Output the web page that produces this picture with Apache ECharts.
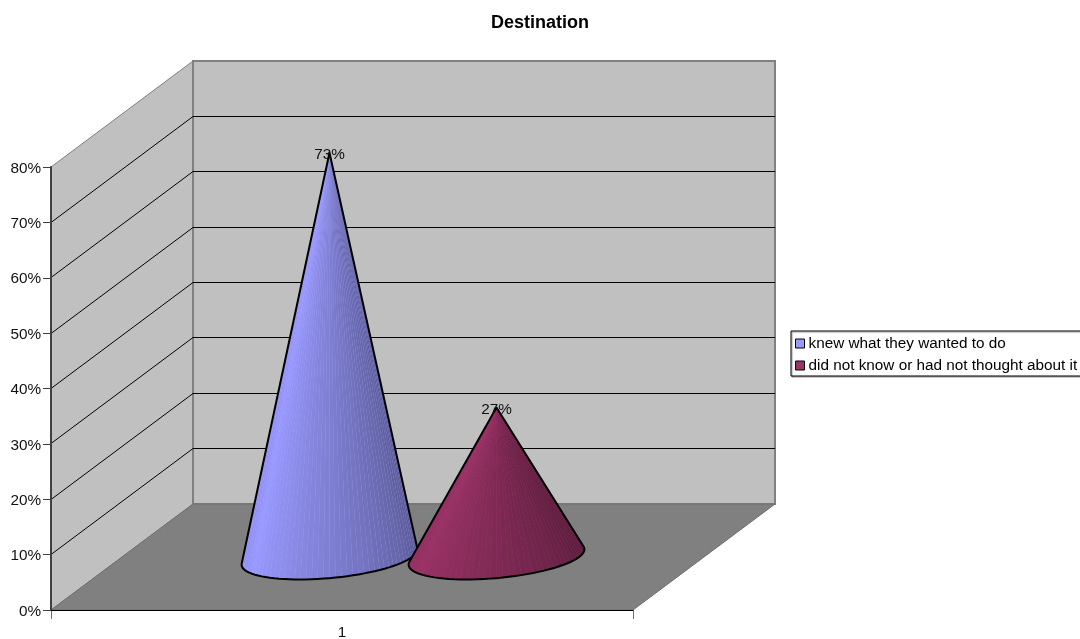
<!DOCTYPE html>
<html>
<head>
<meta charset="utf-8">
<style>html,body{margin:0;padding:0;background:#fff}#chart{width:1080px;height:639px}</style>
<script src="https://cdn.jsdelivr.net/npm/echarts@6/dist/echarts.min.js"></script>
</head>
<body>
<div id="chart"></div>
<script>
// Survey results
const titleText = 'Destination';
const categories = ['1'];
const answerNames = ['knew what they wanted to do', 'did not know or had not thought about it'];
const answerShares = [73, 27];
const answerColors = ['#9999ff', '#993366'];
const yTickValues = [0, 10, 20, 30, 40, 50, 60, 70, 80];

// Oblique projection of the box: how far the back plane sits from the front plane
const DEPTH_X = 142;
const DEPTH_Y = -106;
const FONT = '"Liberation Sans", Arial, sans-serif';

function wallsRenderer(params, api) {
  const cs = params.coordSys;
  const L = cs.x, R = cs.x + cs.width;
  const T = cs.y, B = cs.y + cs.height;
  const back = (x, y) => [x + DEPTH_X, y + DEPTH_Y];
  const children = [];
  const poly = (points, fill, stroke, w) => children.push({
    type: 'polygon', shape: { points },
    style: { fill, stroke: stroke || null, lineWidth: w || 0 }, silent: true
  });
  const line = (a, b, stroke, w) => children.push({
    type: 'line', shape: { x1: a[0], y1: a[1], x2: b[0], y2: b[1] },
    style: { stroke, lineWidth: w }, silent: true
  });
  // side wall, back wall, floor
  poly([[L, T], back(L, T), back(L, B), [L, B]], '#c0c0c0', '#808080', 1);
  poly([back(L, T), back(R, T), back(R, B), back(L, B)], '#c0c0c0', '#808080', 2);
  poly([[L, B], [R, B], back(R, B), back(L, B)], '#808080', '#6f6f6f', 1);
  // gridlines wrap from the side wall onto the back wall
  yTickValues.forEach(v => {
    if (v === 0 || v === yTickValues[yTickValues.length - 1]) return;
    const y = Math.floor(api.coord([0, v])[1]) + 0.5;
    line([L, y], back(L, y), '#000', 1);
    line(back(L, y), back(R, y), '#000', 1);
  });
  // category boundary ticks under the front edge of the floor
  line([L + 0.5, B], [L + 0.5, B + 9], '#707070', 1);
  line([R + 0.5, B], [R + 0.5, B + 9], '#707070', 1);
  return { type: 'group', children };
}

function tint(hex, k) {
  const n = parseInt(hex.slice(1), 16);
  const c = [n >> 16, (n >> 8) & 255, n & 255].map(v => Math.round(Math.min(255, v * k)));
  return 'rgb(' + c.join(',') + ')';
}

// Brightness across the visible face, left silhouette (0) to right silhouette (1)
function faceLight(f) {
  return f < 0.18 ? 0.9 + 0.1 * f / 0.18 : 1 - 0.45 * (f - 0.18) / 0.82;
}

function coneRenderer(index) {
  return function (params, api) {
    const value = api.value(1);
    const top = api.coord([0, value]);
    const zero = api.coord([0, 0]);
    const band = api.size([1, 0])[0];
    const side = index === 0 ? -1 : 1;

    // Cones stand halfway back on the floor, side by side in the category band
    const depth = 0.5;
    const cx = zero[0] + side * band * 0.1435 + depth * DEPTH_X;
    const cy = zero[1] + depth * DEPTH_Y;
    const apex = [cx, top[1] + depth * DEPTH_Y];

    // Base circle as seen in projection: P(t) = c + u cos t + v sin t
    const r = band * 0.142;
    const vx = r * 0.3628, vy = -r * 0.272;
    const at = t => [cx + r * Math.cos(t) + vx * Math.sin(t), cy + vy * Math.sin(t)];

    // Silhouette tangents from the apex, solved in the circle's own frame
    const qy = (apex[1] - cy) / vy;
    const px = (apex[0] - cx - vx * qy) / r;
    const th = Math.atan2(qy, px);
    const off = Math.acos(1 / Math.hypot(px, qy));
    const tStart = th + off;                  // left tangent
    const tEnd = th - off + 2 * Math.PI;      // right tangent, reached through the front

    const color = answerColors[index];
    const children = [];
    const N = 48;
    const arc = [];
    for (let i = 0; i <= N; i++) arc.push(at(tStart + (tEnd - tStart) * i / N));

    // Lighter underlay shows through the hairline seams between facets
    children.push({
      type: 'polygon', shape: { points: [apex].concat(arc) },
      style: { fill: tint(color, 1.12) }, silent: true
    });
    for (let i = 0; i < N; i++) {
      const f = (i + 0.5) / N;
      children.push({
        type: 'polygon', shape: { points: [apex, arc[i], arc[i + 1]] },
        style: { fill: tint(color, faceLight(f)) }, silent: true
      });
    }
    children.push({
      type: 'polygon', shape: { points: [apex].concat(arc) },
      style: { fill: null, stroke: '#000', lineWidth: 2, lineJoin: 'round' }, silent: true
    });
    children.push({
      type: 'text', silent: true, z2: 10,
      style: {
        text: value + '%', x: apex[0], y: apex[1] + 2,
        align: 'center', verticalAlign: 'middle',
        font: '15.3px ' + FONT, fill: '#111'
      }
    });
    return { type: 'group', children };
  };
}

const chart = echarts.init(document.getElementById('chart'), null, { renderer: 'canvas' });
chart.setOption({
  animation: false,
  backgroundColor: '#fff',
  title: {
    text: titleText, left: 'center', top: 9,
    textStyle: { fontFamily: FONT, fontWeight: 'bold', fontSize: 18, color: '#000' }
  },
  legend: {
    orient: 'vertical', left: 791, top: 331,
    padding: [5, 20, 3, 4],
    itemWidth: 9, itemHeight: 9, itemGap: 7,
    selectedMode: false,
    backgroundColor: '#fff', borderColor: '#000', borderWidth: 1,
    shadowColor: 'rgba(0,0,0,0.4)', shadowOffsetX: 1, shadowOffsetY: 1, shadowBlur: 1,
    textStyle: { fontFamily: FONT, fontSize: 15.3, color: '#000', padding: [0, 0, 0, -1] },
    data: answerNames.map((name, i) => ({
      name, icon: 'rect',
      itemStyle: { color: answerColors[i], borderColor: '#000', borderWidth: 1 }
    }))
  },
  grid: { left: 51, right: 447, top: 167, bottom: 29, outerBoundsMode: 'none' },
  xAxis: {
    type: 'category', data: categories, z: 10,
    axisLine: { lineStyle: { color: '#000', width: 1 } },
    axisTick: { show: false },
    axisLabel: { fontFamily: FONT, fontSize: 15.3, color: '#111', margin: 15 }
  },
  yAxis: {
    type: 'value', min: 0, max: 80, interval: 10, z: 10,
    axisLine: { show: true, lineStyle: { color: '#404040', width: 2 } },
    axisTick: { show: true, length: 8, lineStyle: { color: '#404040' } },
    axisLabel: {
      margin: 10, formatter: '{pct|{value}%}',
      rich: { pct: { fontFamily: FONT, fontSize: 15.3, color: '#111', padding: [3, 0, 0, 0] } }
    },
    splitLine: { show: false }
  },
  series: [
    {
      type: 'custom', name: 'box', z: 1, silent: true, renderItem: wallsRenderer,
      data: [[0, 0]], encode: { x: 0, y: 1 }
    }
  ].concat(answerNames.map((name, i) => ({
    type: 'custom', name, z: 3 + i, silent: true,
    renderItem: coneRenderer(i),
    itemStyle: { color: answerColors[i] },
    data: [[0, answerShares[i]]], encode: { x: 0, y: 1 }
  })))
});
</script>
</body>
</html>
